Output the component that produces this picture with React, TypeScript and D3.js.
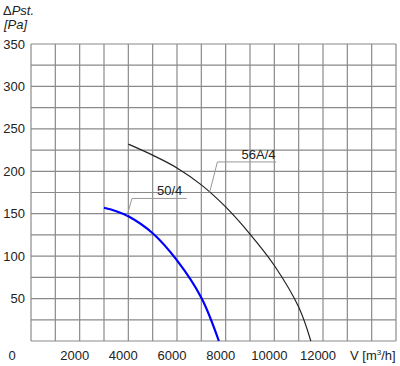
import React from 'react';
import * as d3 from 'd3';

// flow V [m3/h] vs static pressure [Pa]
const fan50x = [3000, 3500, 4000, 5000, 6000, 7000, 7720];
const fan50y = [157, 153, 147, 127, 95, 51, 0];
const fan56x = [4000, 5000, 6000, 7000, 8000, 9000, 10000, 11000, 11500];
const fan56y = [232, 219, 204, 184, 158, 126, 89, 40, 0];

const yTicks = [50, 100, 150, 200, 250, 300, 350];
const xTicks = [2000, 4000, 6000, 8000, 10000, 12000];

const W = 400;
const H = 366;
const left = 31, right = 396, top = 44, bottom = 341;

const App = () => {
  const x = d3.scaleLinear().domain([0, 15000]).range([left, right]);
  const y = d3.scaleLinear().domain([0, 350]).range([bottom, top]);

  const line = d3
    .line<[number, number]>()
    .x(d => x(d[0]))
    .y(d => y(d[1]))
    .curve(d3.curveCatmullRom.alpha(0.5));

  const blue = fan50x.map((v, i) => [v, fan50y[i]] as [number, number]);
  const black = fan56x.map((v, i) => [v, fan56y[i]] as [number, number]);

  const vGrid = d3.range(0, 15001, 1000);
  const hGrid = d3.range(0, 351, 25);

  const font = 'Liberation Sans, Arial, sans-serif';

  return (
    <div style={{ position: 'absolute', left: 0, top: 0 }}>
      <svg width={W} height={H} style={{ display: 'block', background: '#fff' }}>
        {/* grid */}
        {hGrid.map(v => (
          <line key={'h' + v} x1={left} x2={right} y1={y(v)} y2={y(v)} stroke="#8a8a8a" strokeWidth={1.2} />
        ))}
        {vGrid.map(v => (
          <line key={'v' + v} x1={x(v)} x2={x(v)} y1={top} y2={bottom} stroke="#8a8a8a" strokeWidth={1.2} />
        ))}

        {/* curves */}
        <path d={line(black) || ''} fill="none" stroke="#222" strokeWidth={1.2} />
        <path d={line(blue) || ''} fill="none" stroke="#0000ff" strokeWidth={2.2} />

        {/* leader lines */}
        <polyline points={`${x(3950)},${y(148)} ${x(4150)},${y(168)} ${x(6400)},${y(168)}`} fill="none" stroke="#999" strokeWidth={1} />
        <polyline points={`${x(7340)},${y(175)} ${x(7660)},${y(211)} ${x(10080)},${y(211)}`} fill="none" stroke="#999" strokeWidth={1} />
        <text x={x(5700)} y={y(172)} fontFamily={font} fontSize={13} fill="#222" textAnchor="middle">50/4</text>
        <text x={x(9350)} y={y(215)} fontFamily={font} fontSize={13} fill="#222" textAnchor="middle">56A/4</text>

        {/* y axis labels */}
        {yTicks.map(v => (
          <text key={'yt' + v} x={25} y={y(v)} dy="0.35em" fontFamily={font} fontSize={13} fill="#222" textAnchor="end">{v}</text>
        ))}
        <text x={12} y={355} dy="0.35em" fontFamily={font} fontSize={13} fill="#222" textAnchor="middle">0</text>
        {xTicks.map(v => (
          <text key={'xt' + v} x={x(v) - 5} y={355} dy="0.35em" fontFamily={font} fontSize={13} fill="#222" textAnchor="middle">{v}</text>
        ))}
        <text x={350} y={355} dy="0.35em" fontFamily={font} fontSize={13} fill="#222">
          V [m<tspan dy="-5" fontSize={8}>3</tspan><tspan dy="5">/h]</tspan>
        </text>

        {/* y title */}
        <text x={3} y={10} dy="0.35em" fontFamily={font} fontSize={13} fill="#222">
          Δ<tspan fontStyle="italic">Pst.</tspan>
        </text>
        <text x={4} y={24} dy="0.35em" fontFamily={font} fontSize={13} fill="#222" fontStyle="italic">[Pa]</text>
      </svg>
    </div>
  );
};

export default App;
